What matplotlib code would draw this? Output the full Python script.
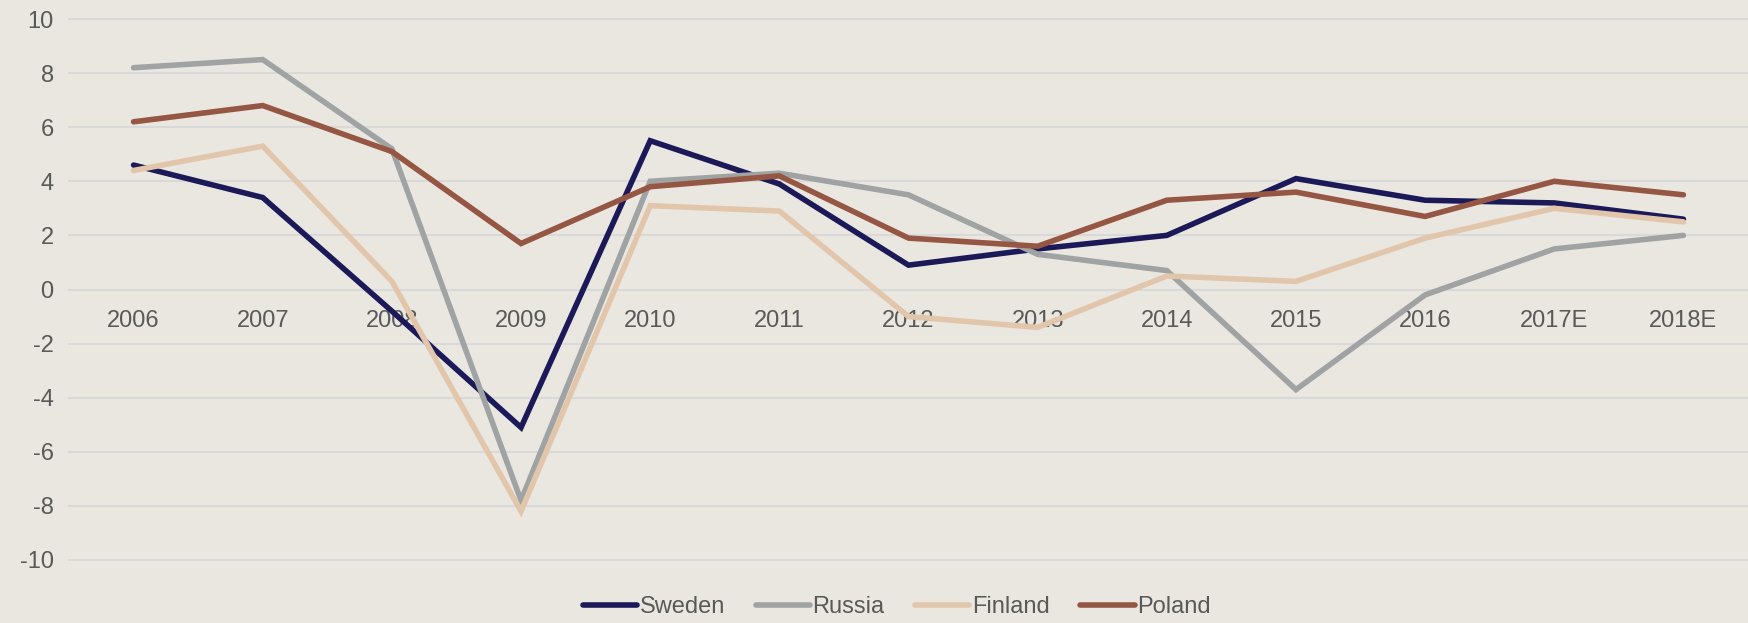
import numpy as np
from matplotlib import pyplot as plt

plt.rcParams['font.family'] = ['Liberation Sans', 'DejaVu Sans']
plt.rcParams['axes.unicode_minus'] = False

# GDP growth, %
years = ['2006', '2007', '2008', '2009', '2010', '2011', '2012', '2013',
         '2014', '2015', '2016', '2017E', '2018E']
sweden = [4.6, 3.4, -0.8, -5.1, 5.5, 3.9, 0.9, 1.5, 2.0, 4.1, 3.3, 3.2, 2.6]
russia = [8.2, 8.5, 5.2, -7.8, 4.0, 4.3, 3.5, 1.3, 0.7, -3.7, -0.2, 1.5, 2.0]
finland = [4.4, 5.3, 0.3, -8.2, 3.1, 2.9, -1.0, -1.4, 0.5, 0.3, 1.9, 3.0, 2.5]
poland = [6.2, 6.8, 5.1, 1.7, 3.8, 4.2, 1.9, 1.6, 3.3, 3.6, 2.7, 4.0, 3.5]

names = ['Sweden', 'Russia', 'Finland', 'Poland']
colors = ['#1b1958', '#a0a3a4', '#e2c6ab', '#955643']
bg = '#eae7e0'
txt = '#595959'

fig = plt.figure(figsize=(17.48, 6.23), dpi=100, facecolor=bg)
ax = fig.add_axes([69/1748, 63/623, 1 - 69/1748, 541/623], facecolor=bg)

x = np.arange(len(years))
for vals, name, c in zip([sweden, russia, finland, poland], names, colors):
	ax.plot(x, vals, color=c, lw=4, label=name, solid_capstyle='round',
	        solid_joinstyle='miter', zorder=3)

ax.set_xlim(-0.5, len(years) - 0.5)
ax.set_ylim(-10, 10)
ax.set_yticks(np.arange(-10, 11, 2))
ax.yaxis.grid(True, color='#d9d9d9', lw=1.5, zorder=0)
for g in ax.get_ygridlines():
	g.set_clip_on(False)

ax.set_xticks(x)
ax.set_xticklabels(years)
for s in ax.spines.values():
	s.set_visible(False)
ax.spines['bottom'].set_position(('data', 0))
ax.tick_params(axis='x', length=0, pad=15, labelsize=17, labelcolor=txt)
ax.tick_params(axis='y', length=0, pad=11, labelsize=17, labelcolor=txt)

fig.legend(loc='center', bbox_to_anchor=(0.513, 0.025), ncol=4, frameon=False,
           fontsize=17, labelcolor=txt, handlelength=2.3, handletextpad=0.1,
           columnspacing=1.3)

plt.savefig('out.png', dpi=100, facecolor=bg)
